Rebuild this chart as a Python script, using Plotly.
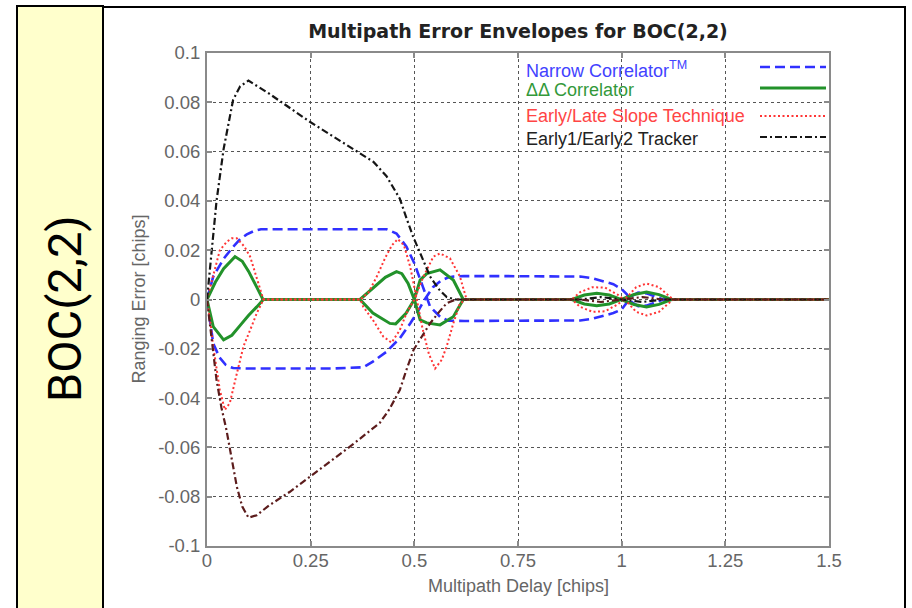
import plotly.graph_objects as go

# ---------------- data ----------------
# Narrow Correlator (TM) - in-phase branch / anti-phase branch
nc_a_x = [0, 0.015, 0.04, 0.063, 0.08, 0.096, 0.115, 0.13, 0.2, 0.3, 0.4, 0.433, 0.457, 0.481, 0.5,
          0.517, 0.529, 0.538, 0.562, 0.582, 0.62, 0.7, 0.8, 0.9, 0.93, 0.96, 0.98, 1.0, 1.012,
          1.025, 1.04, 1.06, 1.08, 1.1, 1.5]
nc_a_y = [0, 0.0093, 0.0165, 0.0214, 0.0245, 0.0264, 0.0279, 0.0285, 0.0285, 0.0285, 0.0285, 0.0285,
          0.0268, 0.0214, 0.0147, 0.0066, 0.0005, -0.0029, -0.007, -0.0086, -0.0087, -0.0087, -0.0087,
          -0.0085, -0.0078, -0.0064, -0.0055, -0.004, -0.0015, 0.0015, 0.0028, 0.0025, 0.0012, 0, 0]
nc_b_x = [0, 0.008, 0.015, 0.03, 0.045, 0.055, 0.063, 0.1, 0.2, 0.3, 0.377, 0.4, 0.433, 0.465, 0.49,
          0.506, 0.525, 0.545, 0.565, 0.58, 0.594, 0.62, 0.7, 0.8, 0.9, 0.93, 0.96, 0.98, 1.0, 1.012,
          1.025, 1.04, 1.06, 1.08, 1.1, 1.5]
nc_b_y = [0, -0.01, -0.0178, -0.0235, -0.0265, -0.0273, -0.0278, -0.028, -0.028, -0.028, -0.0275,
          -0.0252, -0.0212, -0.0157, -0.0097, -0.0056, 0, 0.005, 0.0078, 0.0088, 0.0093, 0.0095, 0.0095,
          0.0095, 0.0093, 0.0086, 0.0073, 0.0062, 0.0042, 0.0022, -0.0012, -0.0027, -0.0025, -0.0012, 0, 0]

# Delta-Delta Correlator
dd_a_x = [0, 0.02, 0.04, 0.0675, 0.085, 0.1, 0.12, 0.135, 0.369, 0.39, 0.41, 0.43, 0.457, 0.47, 0.485,
          0.5, 0.514, 0.53, 0.562, 0.594, 0.618, 0.88, 0.91, 0.94, 0.97, 1.0, 1.03, 1.06, 1.09, 1.12, 1.5]
dd_a_y = [0, 0.007, 0.0125, 0.0174, 0.0155, 0.0115, 0.005, 0, 0, 0.003, 0.006, 0.009, 0.0113, 0.0105,
          0.0065, 0, -0.0083, -0.0095, -0.0103, -0.007, 0, 0, 0.0018, 0.0025, 0.0018, 0, -0.002, -0.003,
          -0.002, 0, 0]
dd_b_x = [0, 0.015, 0.04, 0.06, 0.08, 0.1, 0.12, 0.136, 0.369, 0.4, 0.441, 0.455, 0.48, 0.5, 0.514,
          0.53, 0.562, 0.594, 0.618, 0.88, 0.91, 0.94, 0.97, 1.0, 1.03, 1.06, 1.09, 1.12, 1.5]
dd_b_y = [0, -0.011, -0.0164, -0.0145, -0.0105, -0.0065, -0.003, 0, 0, -0.0055, -0.0097, -0.0099,
          -0.0056, 0, 0.0079, 0.0105, 0.012, 0.0079, 0, 0, -0.0018, -0.0025, -0.0018, 0, 0.002, 0.003,
          0.002, 0, 0]

# Early/Late Slope Technique
els_a_x = [0, 0.008, 0.015, 0.031, 0.048, 0.06, 0.072, 0.09, 0.104, 0.119, 0.136, 0.37, 0.39, 0.41,
           0.43, 0.446, 0.46, 0.475, 0.49, 0.506, 0.52, 0.535, 0.55, 0.566, 0.578, 0.594, 0.61, 0.625,
           0.88, 0.9, 0.93, 0.96, 0.99, 1.013, 1.035, 1.06, 1.09, 1.124, 1.5]
els_a_y = [0, 0.005, 0.0093, 0.020, 0.0235, 0.0248, 0.0248, 0.0215, 0.0174, 0.0093, 0, 0, 0.003,
           0.0095, 0.017, 0.022, 0.0245, 0.022, 0.0133, 0, -0.012, -0.022, -0.028, -0.0245, -0.019,
           -0.0097, -0.0016, 0, 0, 0.003, 0.005, 0.0048, 0.002, -0.001, -0.005, -0.0065, -0.005, 0, 0]
els_b_x = [0, 0.008, 0.015, 0.031, 0.043, 0.055, 0.072, 0.088, 0.104, 0.12, 0.136, 0.37, 0.377, 0.4,
           0.425, 0.445, 0.465, 0.481, 0.5, 0.522, 0.546, 0.562, 0.586, 0.61, 0.626, 0.88, 0.9, 0.93,
           0.96, 0.99, 1.013, 1.035, 1.06, 1.09, 1.124, 1.5]
els_b_y = [0, -0.009, -0.019, -0.0367, -0.0448, -0.042, -0.030, -0.019, -0.0124, -0.0056, 0, 0, -0.003,
           -0.0083, -0.015, -0.0175, -0.0124, -0.0056, 0, 0.0093, 0.0174, 0.0187, 0.0167, 0.0093, 0, 0,
           -0.003, -0.005, -0.0048, -0.002, 0.001, 0.005, 0.0065, 0.005, 0, 0]

# Early1/Early2 Tracker
e12_a_x = [0, 0.007, 0.015, 0.023, 0.04, 0.063, 0.08, 0.1, 0.15, 0.2, 0.248, 0.3, 0.35, 0.401, 0.433,
           0.465, 0.48, 0.497, 0.52, 0.538, 0.56, 0.578, 0.6, 0.9, 0.95, 1.0, 1.05, 1.1, 1.5]
e12_a_y = [0, 0.012, 0.026, 0.040, 0.061, 0.081, 0.0865, 0.0888, 0.0835, 0.0778, 0.0721, 0.0666, 0.0612,
           0.0559, 0.050, 0.0409, 0.0335, 0.0255, 0.0165, 0.0093, 0.004, 0.001, 0, 0, 0.001, 0, -0.001, 0, 0]
e12_b_x = [0, 0.01, 0.023, 0.035, 0.047, 0.06, 0.072, 0.085, 0.1, 0.12, 0.15, 0.2, 0.248, 0.3, 0.35,
           0.385, 0.417, 0.44, 0.465, 0.48, 0.498, 0.52, 0.538, 0.56, 0.578, 0.6, 0.9, 0.95, 1.0, 1.05,
           1.1, 1.5]
e12_b_y = [0, -0.015, -0.0327, -0.044, -0.053, -0.065, -0.076, -0.084, -0.0885, -0.0875, -0.0835,
           -0.078, -0.072, -0.0655, -0.059, -0.0543, -0.050, -0.0445, -0.0367, -0.029, -0.0205, -0.0145,
           -0.0097, -0.005, -0.0015, 0, 0, -0.001, 0, 0.001, 0, 0]

x_tickvals = [0, 0.25, 0.5, 0.75, 1.0, 1.25, 1.5]
x_ticktext = ["0", "0.25", "0.5", "0.75", "1", "1.25", "1.5"]
y_tickvals = [-0.1, -0.08, -0.06, -0.04, -0.02, 0, 0.02, 0.04, 0.06, 0.08, 0.1]
y_ticktext = ["-0.1", "-0.08", "-0.06", "-0.04", "-0.02", "0", "0.02", "0.04", "0.06", "0.08", "0.1"]

legend_labels = ["Narrow Correlator<sup>TM</sup>", "ΔΔ Correlator",
                 "Early/Late Slope Technique", "Early1/Early2 Tracker"]
panel_label = "BOC(2,2)"
chart_title = "Multipath Error Envelopes for BOC(2,2)"
x_title = "Multipath Delay [chips]"
y_title = "Ranging Error [chips]"

# ---------------- layout geometry (pixels) ----------------
W, H = 912, 608
PL, PR, PT, PB = 207, 829, 53, 546


def px(x):
    return (x - PL) / (PR - PL)


def py(y):
    return (PB - y) / (PB - PT)


BLUE = "#3030ff"
GREEN = "#22922a"
RED = "#ff3535"
BLACK = "#151515"
MAROON = "#5c1c1c"

series = [
    (nc_a_x, nc_a_y, dict(color=BLUE, width=2.6, dash="10px,5px")),
    (nc_b_x, nc_b_y, dict(color=BLUE, width=2.6, dash="10px,5px")),
    (dd_a_x, dd_a_y, dict(color=GREEN, width=3)),
    (dd_b_x, dd_b_y, dict(color=GREEN, width=3)),
    (els_a_x, els_a_y, dict(color=RED, width=2, dash="2px,2.5px")),
    (els_b_x, els_b_y, dict(color=RED, width=2, dash="2px,2.5px")),
    (e12_a_x, e12_a_y, dict(color=BLACK, width=2.2, dash="7px,3px,2px,3px")),
    (e12_b_x, e12_b_y, dict(color=MAROON, width=2.2, dash="7px,3px,2px,3px")),
]

fig = go.Figure()
for xs, ys, ln in series:
    fig.add_trace(go.Scatter(x=xs, y=ys, mode="lines", line=ln, showlegend=False,
                             hoverinfo="skip"))

FONT = "Liberation Sans, Arial, Helvetica, sans-serif"
axis_common = dict(
    showline=True, linecolor="#8a8a8a", linewidth=2, mirror="ticks",
    ticks="inside", ticklen=5, tickwidth=1.5, tickcolor="#8a8a8a",
    showgrid=True, gridcolor="#555555", griddash="dot", gridwidth=1.2,
    zeroline=False, tickfont=dict(family=FONT, size=18.5, color="#666666"),
)
fig.update_xaxes(range=[0, 1.5], tickmode="array", tickvals=x_tickvals, ticktext=x_ticktext,
                 ticklabelstandoff=-3, **axis_common)
fig.update_yaxes(range=[-0.1, 0.1], tickmode="array", tickvals=y_tickvals, ticktext=y_ticktext,
                 ticklabelstandoff=1, **axis_common)

shapes = [
    # yellow side panel
    dict(type="rect", xref="paper", yref="paper", x0=px(17), x1=px(103), y0=py(640), y1=py(6),
         fillcolor="#FFFFCC", line=dict(color="black", width=2), layer="below"),
    # white chart panel border
    dict(type="rect", xref="paper", yref="paper", x0=px(103), x1=px(905), y0=py(640), y1=py(7),
         fillcolor="white", line=dict(color="black", width=2), layer="below"),
]

# legend line samples (text left, sample right as in the reference)
leg_text_y = [70, 90, 116.5, 138.5]
leg_line_y = [67, 88, 116, 137]
leg_colors = [BLUE, GREEN, RED, BLACK]
leg_text_colors = ["#4242ff", "#33993a", "#ff4545", "#222222"]
leg_dash = ["10px,5px", "solid", "2px,2.5px", "7px,3px,2px,3px"]
leg_width = [2.6, 3, 2, 2.2]
for i in range(4):
    shapes.append(dict(type="line", xref="paper", yref="paper", x0=px(760), x1=px(826),
                       y0=py(leg_line_y[i]), y1=py(leg_line_y[i]),
                       line=dict(color=leg_colors[i], width=leg_width[i], dash=leg_dash[i])))

annotations = [
    dict(text=panel_label, xref="paper", yref="paper", x=px(64), y=py(309), textangle=-90,
         showarrow=False, xanchor="center", yanchor="middle",
         font=dict(family="Roboto, Liberation Sans, Arial", size=47, color="black")),
    dict(text=x_title, xref="paper", yref="paper", x=0.5, y=py(586), showarrow=False,
         xanchor="center", yanchor="middle", font=dict(family=FONT, size=18, color="#666666")),
    dict(text=y_title, xref="paper", yref="paper", x=px(138), y=0.5, textangle=-90, showarrow=False,
         xanchor="center", yanchor="middle", font=dict(family=FONT, size=18, color="#666666")),
]
for i, lab in enumerate(legend_labels):
    annotations.append(dict(text=lab, xref="paper", yref="paper", x=px(524), y=py(leg_text_y[i]),
                            showarrow=False, xanchor="left", yanchor="middle",
                            font=dict(family=FONT, size=18, color=leg_text_colors[i])))

fig.update_layout(
    width=W, height=H, autosize=False,
    margin=dict(l=PL, r=W - PR, t=PT, b=H - PB, pad=0),
    paper_bgcolor="white", plot_bgcolor="white",
    showlegend=False,
    title=dict(text="<b>" + chart_title + "</b>", x=0.5, xref="paper", xanchor="center",
               y=1 - 31 / H, yref="container", yanchor="middle",
               font=dict(family="DejaVu Sans, Liberation Sans, Arial", size=19, color="#222222")),
    shapes=shapes,
    annotations=annotations,
)

fig.write_html("out.html")
